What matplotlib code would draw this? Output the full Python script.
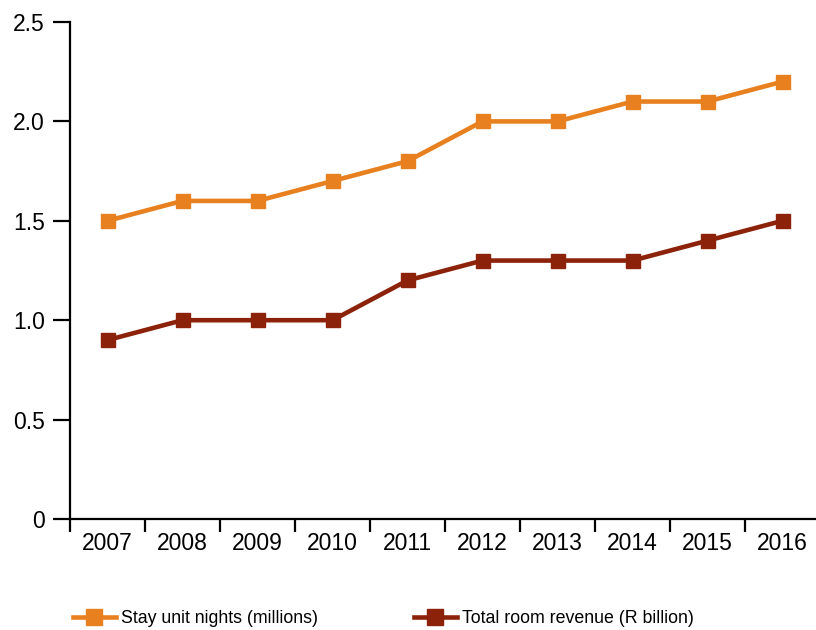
import numpy as np
import matplotlib.pyplot as plt
from matplotlib.ticker import FixedLocator, NullFormatter

plt.rcParams['font.family'] = ['Liberation Sans', 'DejaVu Sans']

years = ['2007', '2008', '2009', '2010', '2011', '2012', '2013', '2014', '2015', '2016']
stay_nights = [1.5, 1.6, 1.6, 1.7, 1.8, 2.0, 2.0, 2.1, 2.1, 2.2]
room_revenue = [0.9, 1.0, 1.0, 1.0, 1.2, 1.3, 1.3, 1.3, 1.4, 1.5]
y_ticks = [0, 0.5, 1.0, 1.5, 2.0, 2.5]
y_labels = ['0', '0.5', '1.0', '1.5', '2.0', '2.5']

orange = '#E8801F'
darkred = '#8C2209'

fig = plt.figure(figsize=(8.16, 6.3), dpi=100)
ax = fig.add_axes([70/816, 1 - 519/630, 746/816, 497/630])

x = np.arange(len(years))
ax.plot(x, stay_nights, color=orange, lw=3.3, marker='s', ms=10, mec=orange,
        label='Stay unit nights (millions)')
ax.plot(x, room_revenue, color=darkred, lw=3.3, marker='s', ms=10, mec=darkred,
        label='Total room revenue (R billion)')

ax.set_xlim(-0.5, 746/75 - 0.5)
ax.set_ylim(0, 2.5)
ax.set_yticks(y_ticks)
ax.set_yticklabels(y_labels, fontsize=16.5)

# boundaries get the tick marks, centres get the labels
ax.xaxis.set_major_locator(FixedLocator(np.arange(-0.5, 9.5, 1.0)))
ax.xaxis.set_major_formatter(NullFormatter())
ax.set_xticks(x, minor=True)
ax.set_xticklabels(years, minor=True, fontsize=16.5)
ax.tick_params(axis='x', which='major', direction='out', length=9, width=1.6)
ax.tick_params(axis='x', which='minor', length=0, pad=9)
ax.tick_params(axis='y', direction='out', length=12, width=1.6, pad=6)

for s in ['top', 'right']:
    ax.spines[s].set_visible(False)
for s in ['left', 'bottom']:
    ax.spines[s].set_linewidth(1.6)

fig.legend(loc='lower left', bbox_to_anchor=(0.07, -0.021), ncol=2, frameon=False,
           fontsize=12.8, handlelength=2.4, columnspacing=5.4, handletextpad=0.3,
           markerscale=1.2)

fig.savefig('out.png', dpi=100)
